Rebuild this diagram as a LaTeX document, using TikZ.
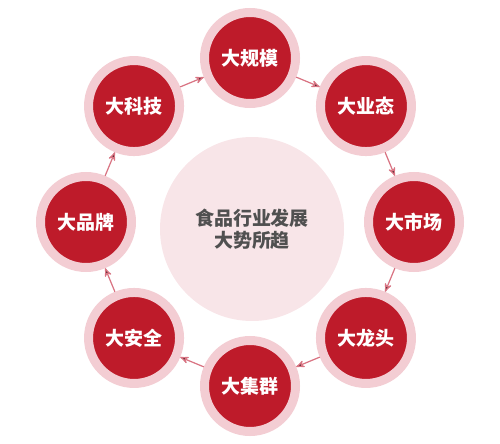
\documentclass[tikz,border=0pt]{standalone}
\usepackage{fontspec}
\newfontfamily\cjk{Noto Sans CJK SC}
\usetikzlibrary{arrows}

\definecolor{bigred}{HTML}{BE1B2A}
\definecolor{ringpink}{HTML}{F3CDD3}
\definecolor{hubpink}{HTML}{F8E5E8}
\definecolor{hubgray}{HTML}{505050}
\definecolor{arrowpink}{HTML}{D97483}

\tikzset{
  big/.style={circle, fill=bigred, draw=ringpink, line width=0.18cm,
    minimum size=1.82cm, inner sep=0pt, text=white,
    font=\cjk\bfseries\fontsize{10.8}{12}\selectfont},
  hub/.style={circle, fill=hubpink, minimum size=3.68cm, inner sep=0pt,
    align=center, text=hubgray, font=\cjk\bfseries\fontsize{10.8}{12.5}\selectfont},
  flow/.style={draw=arrowpink, line width=0.7pt, ->, >=stealth'}
}

\begin{document}
\begin{tikzpicture}
\useasboundingbox (0,0) rectangle (10,8.86);

\node[hub] (trend) at (5.04,4.28) {食品行业发展\\大势所趋};

\begin{scope}[shift={(5,4.42)}]
\node[big] (scale) at (90:3.28) {大规模};
\node[big] (format) at (45:3.28) {大业态};
\node[big] (market) at (0:3.28) {大市场};
\node[big] (leader) at (-45:3.28) {大龙头};
\node[big] (cluster) at (-90:3.28) {大集群};
\node[big] (safety) at (-135:3.28) {大安全};
\node[big] (brand) at (180:3.28) {大品牌};
\node[big] (tech) at (135:3.28) {大科技};
\end{scope}

\path[flow] (scale) edge (format)
    (format) edge (market)
    (market) edge (leader)
    (leader) edge (cluster)
    (cluster) edge (safety)
    (safety) edge (brand)
    (brand) edge (tech)
    (tech) edge (scale);
\end{tikzpicture}
\end{document}
